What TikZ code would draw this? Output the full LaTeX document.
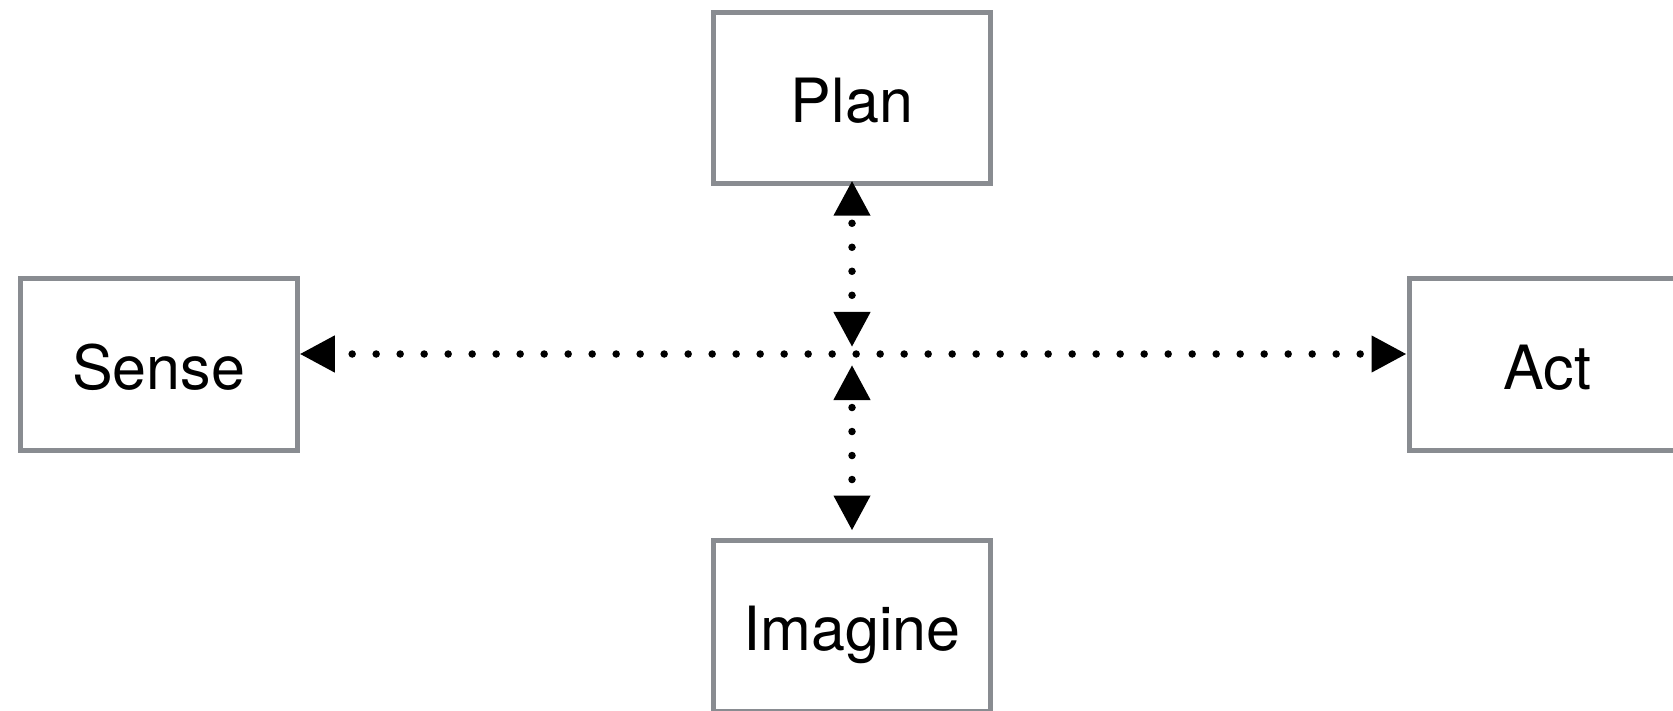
\documentclass[tikz,border=0pt]{standalone}
\usepackage{fontspec}
\setmainfont{TeX Gyre Heros}
\usetikzlibrary{arrows.meta}
\definecolor{boxgray}{RGB}{137,140,145}
\begin{document}
\begin{tikzpicture}[x=1pt,y=-1pt,
  box/.style={draw=boxgray, line width=5pt, fill=white,
    minimum width=277pt, minimum height=171pt, inner sep=0pt,
    text height=50pt, text depth=0pt,
    font=\fontsize{61}{70}\selectfont},
  tipshape/.tip={Triangle[length=35pt,width=35pt]},
  link/.style={line width=7.5pt, line cap=round, dash pattern=on 0pt off 24pt, tipshape-tipshape}
]
\clip (0,0) rectangle (1673,711);
\fill[white] (0,0) rectangle (1673,711);

\node[box] (plan) at (852,97.75) {Plan};
\node[box] (sense) at (158.75,364.5) {Sense};
\node[box] (act) at (1547.5,364.5) {Act};
\node[box] (imagine) at (852,625.5) {Imagine};

\coordinate (c) at (852,354);
\coordinate (cu) at (852,347);
\coordinate (cd) at (852,365);

\draw[link, dash phase=14.6pt] ([yshift=5pt]plan.south) -- (cu);
\draw[link, dash phase=14.6pt] (cd) -- ([yshift=7pt]imagine.north);
\draw[link, dash phase=4.7pt] (sense.east |- c) -- (act.west |- c);
\end{tikzpicture}
\end{document}
